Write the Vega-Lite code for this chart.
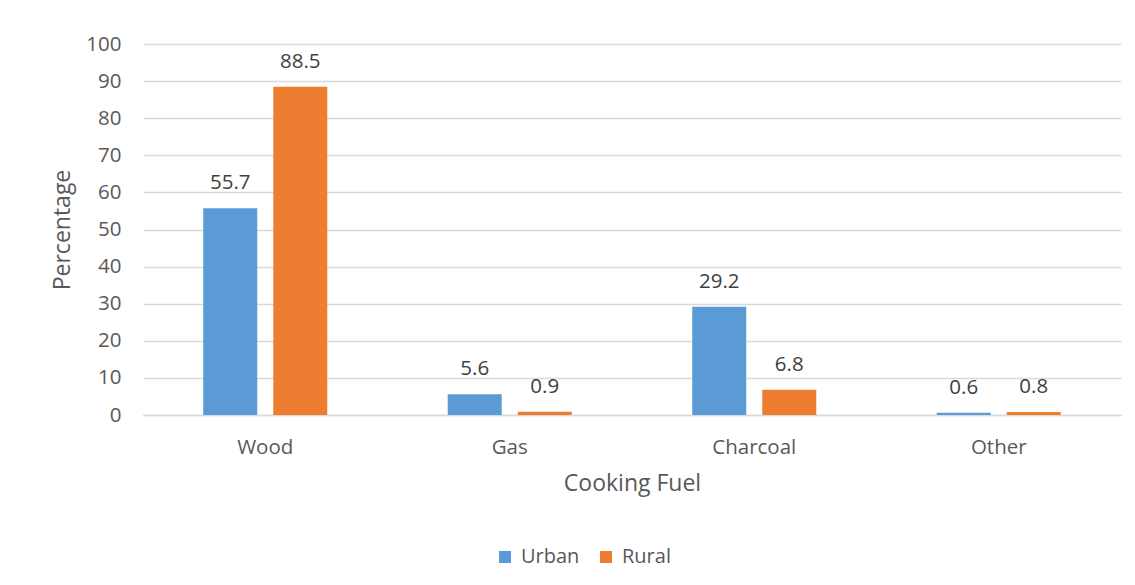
{
  "$schema": "https://vega.github.io/schema/vega-lite/v6.json",
  "autosize": "none",
  "width": 978,
  "height": 371,
  "padding": {"left": 143, "top": 44, "right": 14, "bottom": 170},
  "background": "white",
  "config": {
    "font": "Open Sans",
    "view": {"stroke": null},
    "axis": {"labelColor": "#595959", "titleColor": "#595959", "labelFont": "Open Sans", "titleFont": "Open Sans", "titleFontWeight": "normal"},
    "legend": {"labelColor": "#595959", "labelFont": "Open Sans"}
  },
  "data": {
    "values": [
      {"fuel": "Wood", "area": "Urban", "pct": 55.7},
      {"fuel": "Wood", "area": "Rural", "pct": 88.5},
      {"fuel": "Gas", "area": "Urban", "pct": 5.6},
      {"fuel": "Gas", "area": "Rural", "pct": 0.9},
      {"fuel": "Charcoal", "area": "Urban", "pct": 29.2},
      {"fuel": "Charcoal", "area": "Rural", "pct": 6.8},
      {"fuel": "Other", "area": "Urban", "pct": 0.6},
      {"fuel": "Other", "area": "Rural", "pct": 0.8}
    ]
  },
  "encoding": {
    "x": {
      "field": "fuel", "type": "nominal", "sort": ["Wood", "Gas", "Charcoal", "Other"],
      "scale": {"paddingInner": 0, "paddingOuter": 0},
      "axis": {"title": "Cooking Fuel", "labelAngle": 0, "labelFontSize": 20.5, "titleFontSize": 23, "ticks": false, "domainColor": "#d9d9d9", "domainWidth": 1.5, "labelPadding": 22, "titlePadding": 15}
    },
    "xOffset": {
      "field": "area", "type": "nominal", "sort": ["Urban", "Rural"],
      "scale": {"paddingInner": 0.229, "paddingOuter": 0.86}
    },
    "y": {
      "field": "pct", "type": "quantitative",
      "scale": {"domain": [0, 100]},
      "axis": {"title": "Percentage", "tickCount": 10, "labelFontSize": 20.5, "titleFontSize": 23, "ticks": false, "domain": false, "gridColor": "#d9d9d9", "gridWidth": 1.5, "labelPadding": 22, "titlePadding": 11}
    }
  },
  "layer": [
    {
      "mark": {"type": "bar"},
      "encoding": {
        "color": {
          "field": "area", "type": "nominal", "sort": ["Urban", "Rural"],
          "scale": {"domain": ["Urban", "Rural"], "range": ["#5b9bd5", "#ed7d31"]},
          "legend": {"title": null, "orient": "none", "legendX": 352, "legendY": 503, "direction": "horizontal", "symbolType": "square", "symbolSize": 144, "symbolStrokeWidth": 0, "labelFontSize": 20, "columnPadding": 16, "labelOffset": 6}
        }
      }
    },
    {
      "mark": {"type": "text", "baseline": "bottom", "dy": -15, "fontSize": 20.5, "color": "#404040", "font": "Open Sans"},
      "encoding": {"text": {"field": "pct", "type": "quantitative", "format": ".1f"}}
    }
  ]
}
